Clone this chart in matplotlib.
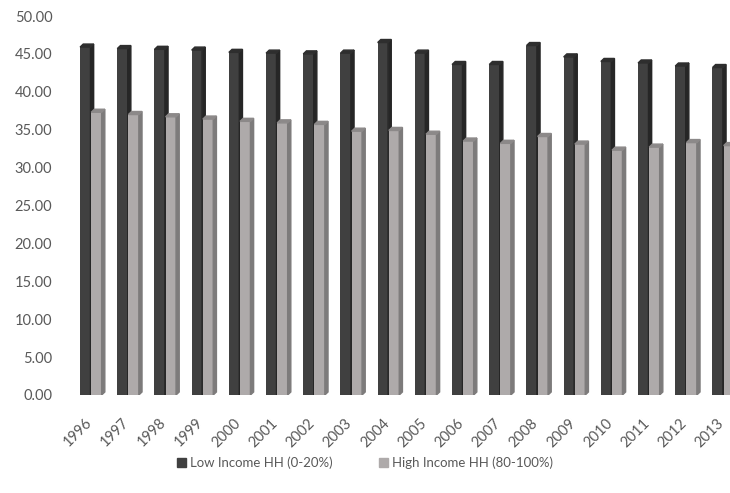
import numpy as np
import matplotlib
matplotlib.use("Agg")
from matplotlib import pyplot as plt
from matplotlib.patches import Polygon, Patch
from matplotlib import transforms

years = ['1996', '1997', '1998', '1999', '2000', '2001', '2002', '2003', '2004',
         '2005', '2006', '2007', '2008', '2009', '2010', '2011', '2012', '2013']
low_income = [45.9, 45.7, 45.6, 45.5, 45.2, 45.1, 45.0, 45.1, 46.5,
              45.1, 43.6, 43.6, 46.1, 44.6, 44.0, 43.8, 43.4, 43.2]
high_income = [37.3, 37.0, 36.7, 36.4, 36.1, 35.9, 35.7, 34.8, 34.9,
               34.4, 33.5, 33.2, 34.1, 33.1, 32.3, 32.7, 33.3, 32.9]
labels = ['Low Income HH (0-20%)', 'High Income HH (80-100%)']

plt.rcParams['font.family'] = ['Lato', 'DejaVu Sans']
txt = '#595959'

fig = plt.figure(figsize=(7.3, 4.93), dpi=100)
ax = fig.add_axes([62/730, (493-395)/493, 1-62/730, (395-16)/493])

x = np.arange(len(years))
w = 0.28
dx, dy = 0.085, 0.4  # fake depth for the 3d look


def bars3d(xs, vals, front, side, top):
    ax.bar(xs, vals, width=w, align='edge', color=front, zorder=2)
    for xi, v in zip(xs, vals):
        ax.add_patch(Polygon([(xi+w, 0), (xi+w+dx, dy), (xi+w+dx, v+dy), (xi+w, v)],
                             closed=True, color=side, zorder=2))
        ax.add_patch(Polygon([(xi, v), (xi+dx, v+dy), (xi+w+dx, v+dy), (xi+w, v)],
                             closed=True, color=top, zorder=2))


bars3d(x - w, low_income, '#404040', '#262626', '#2e2e2e')
bars3d(x + 0.02, high_income, '#aeaaaa', '#7d7b7b', '#8c8989')

ax.set_xlim((62-90.5)/37.2, (730-90.5)/37.2)
ax.set_ylim(0, 50)
ax.set_yticks(np.arange(0, 51, 5))
ax.set_yticklabels(['%.2f' % v for v in np.arange(0, 51, 5)])
ax.set_xticks(x)
ax.set_xticklabels(years, rotation=45, ha='right', rotation_mode='anchor')
ax.tick_params(length=0, colors=txt)
ax.tick_params(axis='x', pad=15, labelsize=10.5)
ax.tick_params(axis='y', labelsize=10.5, pad=7)
# nudge the slanted year labels a bit to the left
shift = transforms.ScaledTranslation(-6/100, 0, fig.dpi_scale_trans)
for lab in ax.get_xticklabels():
    lab.set_transform(lab.get_transform() + shift)
for s in ax.spines.values():
    s.set_visible(False)

handles = [Patch(color='#404040'), Patch(color='#aeaaaa')]
fig.legend(handles, labels, loc='center', bbox_to_anchor=(0.5, 30/493), ncol=2,
           frameon=False, fontsize=9.5, labelcolor=txt, handlelength=0.7,
           handleheight=0.7, handletextpad=0.3, columnspacing=3.5)

fig.savefig('out.png', dpi=100)
